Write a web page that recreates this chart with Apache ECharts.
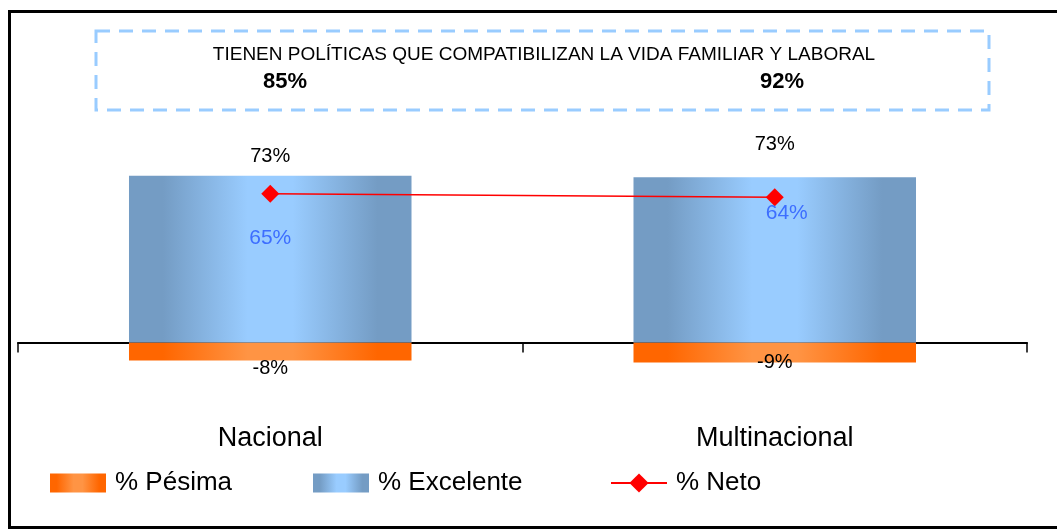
<!DOCTYPE html>
<html lang="es" style="height: 100%">

<head>
  <meta charset="utf-8">
  <title>Políticas vida familiar y laboral</title>
</head>

<body style="height: 100%; margin: 0; background: #fff">
  <div id="container" style="height: 529px; width: 1057px;"></div>

  <script type="text/javascript" src="https://cdn.jsdelivr.net/npm/echarts@6.0.0/dist/echarts.min.js"></script>
  <script type="text/javascript">
    // datos
    var categorias = ['Nacional', 'Multinacional'];
    var pesima = [-7.9, -8.8];
    var excelente = [73.3, 72.6];
    var neto = [65.4, 63.8];
    var tituloCaja = 'TIENEN POLÍTICAS QUE COMPATIBILIZAN LA VIDA FAMILIAR Y LABORAL';
    var totales = [85, 92];

    var fuente = "'Liberation Sans', Arial, sans-serif";

    var dom = document.getElementById('container');
    var myChart = echarts.init(dom, null, { renderer: 'canvas' });

    function pct(p) {
      return Math.round(p.value) + '%';
    }

    // degradado horizontal (bordes oscuros, centro claro)
    function degradado(borde, centro) {
      return new echarts.graphic.LinearGradient(0, 0, 1, 0, [
        { offset: 0, color: borde },
        { offset: 0.12, color: borde },
        { offset: 0.42, color: centro },
        { offset: 0.58, color: centro },
        { offset: 0.88, color: borde },
        { offset: 1, color: borde }
      ]);
    }

    var offsExc = [9, 23];          // distancia etiqueta sobre barra azul
    var offsPes = [[0, 17], [0, 10]];
    var offsNeto = [[0, 44], [12, 16]];

    function leyenda(izq, nombre, alto) {
      return {
        left: izq,
        top: 470,
        padding: 0,
        data: [{ name: nombre, icon: nombre === '% Neto' ? undefined : 'rect' }],
        itemWidth: 56,
        itemHeight: alto,
        textStyle: { fontFamily: fuente, fontSize: 26, color: '#000', padding: [0, 0, 0, 4] }
      };
    }

    var option = {
      animation: false,
      grid: { left: 18, right: 30, top: 115, bottom: 141 },
      xAxis: {
        type: 'category',
        data: categorias,
        axisLine: { onZero: true, lineStyle: { color: '#000', width: 2 } },
        axisTick: { show: true, length: 10, lineStyle: { color: '#000', width: 1.5 } },
        axisLabel: { margin: 37, fontFamily: fuente, fontSize: 27, color: '#000' }
      },
      yAxis: {
        type: 'value',
        min: -20,
        max: 100,
        show: false,
        splitLine: { show: false }
      },
      legend: [
        leyenda(50, '% Pésima', 19),
        leyenda(313, '% Excelente', 19),
        leyenda(610, '% Neto', 24)
      ],
      series: [
        {
          name: '% Pésima',
          type: 'bar',
          barWidth: '56%',
          barGap: '-100%',
          itemStyle: { color: degradado('#FF6600', '#FF9444') },
          data: pesima.map(function (v, i) {
            return { value: v, label: { offset: offsPes[i] } };
          }),
          label: {
            show: true,
            position: 'inside',
            formatter: pct,
            fontFamily: fuente,
            fontSize: 20,
            color: '#000'
          }
        },
        {
          name: '% Excelente',
          type: 'bar',
          barWidth: '56%',
          barGap: '-100%',
          itemStyle: { color: degradado('#749CC4', '#99CCFF') },
          data: excelente.map(function (v, i) {
            return { value: v, label: { distance: offsExc[i] } };
          }),
          label: {
            show: true,
            position: 'top',
            formatter: pct,
            fontFamily: fuente,
            fontSize: 20,
            color: '#000'
          }
        },
        {
          name: '% Neto',
          type: 'line',
          symbol: 'diamond',
          symbolSize: 18,
          z: 5,
          lineStyle: { color: '#FF0000', width: 1.5 },
          itemStyle: { color: '#FF0000' },
          data: neto.map(function (v, i) {
            return { value: v, label: { offset: offsNeto[i] } };
          }),
          label: {
            show: true,
            position: 'inside',
            formatter: pct,
            fontFamily: fuente,
            fontSize: 21,
            color: '#3D6EFF'
          }
        }
      ],
      graphic: [
        {
          type: 'rect',
          silent: true,
          shape: { x: 9.5, y: 11.5, width: 1060, height: 516 },
          style: { fill: null, stroke: '#000', lineWidth: 3 }
        },
        {
          type: 'rect',
          silent: true,
          shape: { x: 96, y: 31, width: 893, height: 79 },
          style: { fill: null, stroke: '#99CCFF', lineWidth: 3, lineDash: [14, 9] }
        },
        {
          type: 'text',
          x: 544,
          y: 55,
          style: {
            text: tituloCaja,
            x: 0, y: 0,
            align: 'center',
            verticalAlign: 'middle',
            fontFamily: fuente,
            fontSize: 19,
            fill: '#000'
          }
        },
        {
          type: 'text',
          x: 285,
          y: 82,
          style: {
            text: totales[0] + '%',
            align: 'center',
            verticalAlign: 'middle',
            fontFamily: fuente,
            fontSize: 22,
            fontWeight: 'bold',
            fill: '#000'
          }
        },
        {
          type: 'text',
          x: 782,
          y: 82,
          style: {
            text: totales[1] + '%',
            align: 'center',
            verticalAlign: 'middle',
            fontFamily: fuente,
            fontSize: 22,
            fontWeight: 'bold',
            fill: '#000'
          }
        }
      ]
    };

    myChart.setOption(option);

    window.addEventListener('resize', function () {
      myChart.resize();
    });
  </script>
</body>

</html>
